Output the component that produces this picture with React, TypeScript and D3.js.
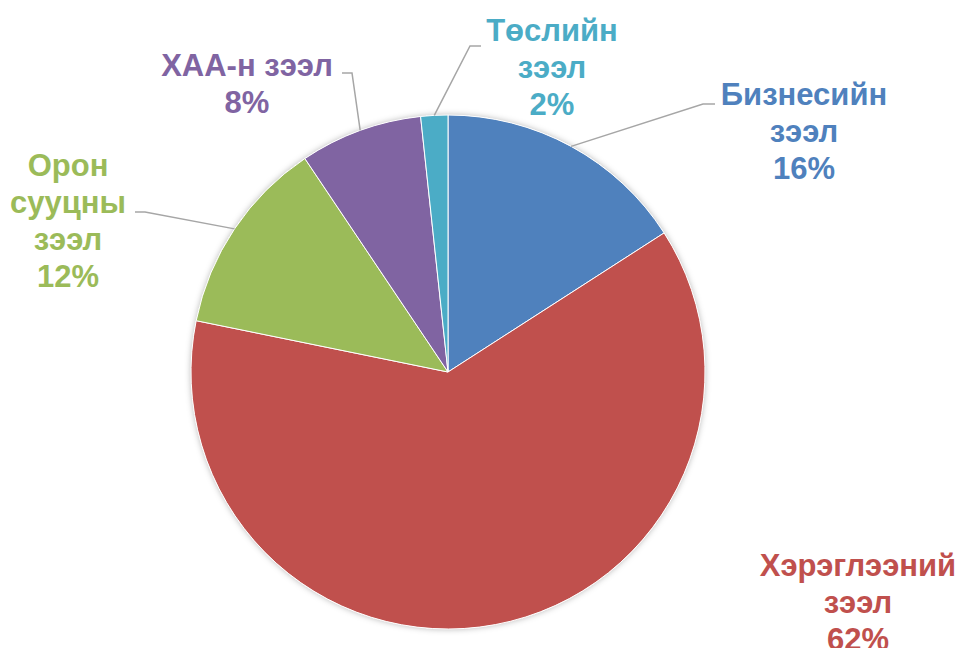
import React from "react";
import * as d3 from "d3";

const categories = ["Бизнесийн зээл", "Хэрэглээний зээл", "Орон сууцны зээл", "ХАА-н зээл", "Төслийн зээл"];
const values = [15.9, 62.3, 12.4, 7.7, 1.7];
const percentLabels = ["16%", "62%", "12%", "8%", "2%"];
const labelLines = [
  ["Бизнесийн", "зээл", "16%"],
  ["Хэрэглээний", "зээл", "62%"],
  ["Орон", "сууцны", "зээл", "12%"],
  ["ХАА-н зээл", "8%"],
  ["Төслийн", "зээл", "2%"],
];
const colors = ["#4F81BD", "#C0504D", "#9BBB59", "#8064A2", "#4BACC6"];

// layout of labels (center x, first baseline y) and leader elbows
const labelLayout = [
  { x: 804, y: 105, elbow: [703, 104], end: [715, 104] },
  { x: 858, y: 576, elbow: null, end: null },
  { x: 68, y: 176, elbow: [145, 212], end: [135, 212] },
  { x: 247, y: 76, elbow: [352, 73], end: [342, 73] },
  { x: 552, y: 41, elbow: [470, 46], end: [481, 46] },
];

const W = 965;
const H = 648;
const cx = 448;
const cy = 372;
const R = 257;
const lineH = 37;

export default function App() {
  const pie = d3.pie<number>().sort(null).value((d) => d)(values);
  const arc = d3.arc<d3.PieArcDatum<number>>().innerRadius(0).outerRadius(R);

  return (
    <svg width={W} height={H} style={{ position: "absolute", left: 0, top: 0, background: "#fff" }}>
      <defs>
        <filter id="sh" x="-20%" y="-20%" width="140%" height="140%">
          <feDropShadow dx="0" dy="0" stdDeviation="3" floodColor="#000" floodOpacity="0.3" />
        </filter>
      </defs>
      <g transform={`translate(${cx},${cy})`}>
        <circle r={R} fill="#fff" filter="url(#sh)" />
        {pie.map((p, i) => (
          <path key={categories[i]} d={arc(p) || ""} fill={colors[i]} stroke="#fff" strokeWidth={1} />
        ))}
      </g>
      {pie.map((p, i) => {
        const L = labelLayout[i];
        if (!L.elbow || !L.end) return null;
        const a = (p.startAngle + p.endAngle) / 2;
        const sx = cx + Math.sin(a) * R;
        const sy = cy - Math.cos(a) * R;
        return (
          <polyline
            key={"l" + i}
            points={`${sx},${sy} ${L.elbow[0]},${L.elbow[1]} ${L.end[0]},${L.end[1]}`}
            fill="none"
            stroke="#A6A6A6"
            strokeWidth={1.5}
          />
        );
      })}
      {labelLines.map((lines, i) => (
        <text
          key={"t" + i}
          x={labelLayout[i].x}
          y={labelLayout[i].y}
          textAnchor="middle"
          fill={colors[i]}
          fontFamily="'Liberation Sans', Arial, sans-serif"
          fontWeight="bold"
          fontSize={31}
        >
          {lines.map((s, j) => (
            <tspan key={j} x={labelLayout[i].x} y={labelLayout[i].y + j * lineH}>
              {s}
            </tspan>
          ))}
        </text>
      ))}
    </svg>
  );
}
